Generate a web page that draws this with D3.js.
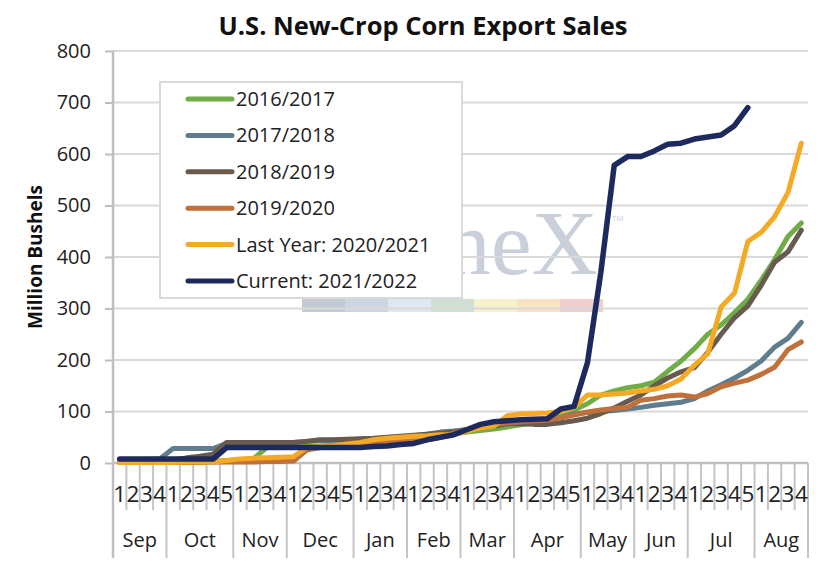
<!DOCTYPE html>
<html>
<head>
<meta charset="utf-8">
<script src="https://cdn.jsdelivr.net/npm/d3@7"></script>
<style>
  body { margin: 0; background: #fff; }
  svg { display: block; font-family: "Open Sans", sans-serif; }
</style>
</head>
<body>
<svg id="chart" width="826" height="561"></svg>
<script>
// Categories: marketing-year weeks, Sep through Aug
const months = ["Sep", "Oct", "Nov", "Dec", "Jan", "Feb", "Mar", "Apr", "May", "Jun", "Jul", "Aug"];
const weeksPerMonth = [4, 5, 4, 5, 4, 4, 4, 5, 4, 4, 5, 4];
const yTicks = [0, 100, 200, 300, 400, 500, 600, 700, 800];

// Series values (million bushels), one per week
const s2016 = [2, 2, 3, 3, 3, 3, 3, 4, 5, 6, 8, 30, 30, 31, 32, 33, 35, 36, 37, 38, 40, 42, 45, 50, 55,
  57, 60, 63, 66, 70, 74, 78, 85, 97, 103, 115, 132, 140, 146, 150, 157, 178, 198, 222, 250, 268, 292, 318,
  355, 395, 440, 466];
const s2017 = [3, 5, 7, 8, 28, 28, 28, 28, 38, 38, 38, 38, 38, 40, 42, 43, 44, 45, 46, 47, 48, 50, 53, 56, 60,
  62, 65, 70, 74, 78, 80, 82, 84, 88, 95, 98, 100, 102, 105, 108, 112, 115, 118, 125, 140, 152, 165, 180,
  198, 225, 242, 273];
const s2018 = [2, 3, 4, 5, 6, 10, 13, 17, 40, 40, 40, 40, 40, 40, 42, 45, 45, 46, 47, 48, 50, 52, 54, 56, 58,
  60, 63, 68, 72, 76, 76, 75, 75, 78, 82, 87, 96, 107, 120, 132, 150, 165, 177, 185, 215, 250, 282, 305,
  345, 390, 410, 452];
const s2019 = [1, 1, 1, 1, 1, 1, 1, 2, 2, 2, 2, 3, 3, 4, 25, 30, 32, 35, 38, 40, 40, 42, 42, 45, 50, 58,
  65, 70, 74, 78, 80, 82, 83, 88, 93, 99, 103, 106, 108, 122, 125, 130, 132, 128, 135, 148, 155, 161,
  172, 186, 220, 235];
const s2020 = [1, 1, 1, 1, 1, 2, 2, 2, 5, 8, 9, 10, 11, 12, 30, 32, 33, 37, 40, 45, 48, 50, 52, 53, 55, 55,
  62, 68, 72, 92, 95, 96, 97, 100, 108, 132, 132, 134, 136, 140, 143, 150, 163, 190, 212, 303, 330, 430,
  448, 478, 525, 621];
const s2021 = [8, 8, 8, 8, 8, 8, 8, 8, 30, 30, 30, 30, 30, 30, 30, 30, 30, 30, 30, 32, 33, 36, 38, 45, 50, 55,
  65, 75, 80, 82, 84, 85, 86, 105, 110, 195, 370, 578, 595, 595, 606, 619, 621, 629, 633, 637, 655, 690];

const seriesNames = ["2016/2017", "2017/2018", "2018/2019", "2019/2020", "Last Year: 2020/2021", "Current: 2021/2022"];
const seriesColors = ["#70ad47", "#5f7d8c", "#685a4e", "#c0703a", "#f4aa25", "#1e2a5e"];
const seriesValues = [s2016, s2017, s2018, s2019, s2020, s2021];

// Build week categories
const weekLabels = [];
const monthStarts = [];
months.forEach((m, i) => {
  monthStarts.push(weekLabels.length);
  for (let w = 1; w <= weeksPerMonth[i]; w++) weekLabels.push(String(w));
});
const cats = weekLabels.map((d, i) => i);

// Layout
const plotLeft = 113, plotRight = 808, plotTop = 51, plotBottom = 463, axisFoot = 558;
const svg = d3.select("#chart");

const x = d3.scaleBand().domain(cats).range([plotLeft, plotRight]);
const y = d3.scaleLinear().domain([0, 800]).range([plotBottom, plotTop]);

// Title
svg.append("text")
  .attr("x", 423).attr("y", 35)
  .attr("text-anchor", "middle")
  .attr("font-size", 25.5).attr("font-weight", "bold").attr("fill", "#111")
  .text("U.S. New-Crop Corn Export Sales");

// Watermark
const wm = svg.append("g");
const wmColors = ["#c3cad3", "#cbd6e2", "#dde8f1", "#cfe0d2", "#f6f1cf", "#f8e3c7", "#f1cfd0"];
wm.selectAll("rect").data(wmColors).enter().append("rect")
  .attr("x", (d, i) => 302 + i * 43).attr("y", 299)
  .attr("width", 43).attr("height", 13)
  .attr("fill", d => d);
wm.append("text")
  .attr("x", 598).attr("y", 274).attr("text-anchor", "end")
  .attr("font-family", "'Liberation Serif', 'DejaVu Serif', serif")
  .attr("font-size", 92).attr("fill", "#c9d0d9")
  .text("neX");
wm.append("text")
  .attr("x", 612).attr("y", 221)
  .attr("font-size", 8).attr("fill", "#c9d0d9")
  .text("TM");

// Gridlines
svg.append("g")
  .selectAll("line")
  .data(yTicks.filter(d => d > 0))
  .enter().append("line")
  .attr("x1", plotLeft).attr("x2", plotRight)
  .attr("y1", d => y(d)).attr("y2", d => y(d))
  .attr("stroke", "#d9d9d9").attr("stroke-width", 2);

// Y axis
const yAxis = d3.axisLeft(y).tickValues(yTicks).tickSize(8).tickPadding(14);
const gy = svg.append("g").attr("transform", `translate(${plotLeft},0)`).call(yAxis);
gy.select(".domain").remove();
gy.selectAll(".tick line").attr("stroke", "#bfbfbf").attr("stroke-width", 2);
gy.selectAll(".tick text").attr("font-size", 20).attr("fill", "#222").attr("font-family", "'Open Sans', sans-serif");
svg.append("line")
  .attr("x1", plotLeft).attr("x2", plotLeft).attr("y1", plotTop).attr("y2", axisFoot)
  .attr("stroke", "#bfbfbf").attr("stroke-width", 2.5);

// X axis (two-level category axis)
svg.append("line")
  .attr("x1", plotLeft).attr("x2", plotRight).attr("y1", plotBottom).attr("y2", plotBottom)
  .attr("stroke", "#bfbfbf").attr("stroke-width", 2.5);
const boundaries = d3.range(1, cats.length).map(i => x(i));
svg.append("g").selectAll("line")
  .data(boundaries)
  .enter().append("line")
  .attr("x1", d => d).attr("x2", d => d)
  .attr("y1", plotBottom).attr("y2", (d, i) => monthStarts.includes(i + 1) ? axisFoot : 510)
  .attr("stroke", "#c4c4c4").attr("stroke-width", 2);
svg.append("line")
  .attr("x1", plotRight).attr("x2", plotRight).attr("y1", plotBottom).attr("y2", axisFoot)
  .attr("stroke", "#c4c4c4").attr("stroke-width", 2);

svg.append("g").selectAll("text")
  .data(cats)
  .enter().append("text")
  .attr("x", d => x(d) + x.bandwidth() / 2)
  .attr("y", 502)
  .attr("text-anchor", "middle")
  .attr("font-size", 22.5).attr("fill", "#222")
  .text(d => weekLabels[d]);

svg.append("g").selectAll("text")
  .data(months)
  .enter().append("text")
  .attr("x", (d, i) => {
    const a = x(monthStarts[i]);
    const b = x(monthStarts[i] + weeksPerMonth[i] - 1) + x.bandwidth();
    return (a + b) / 2;
  })
  .attr("y", 547)
  .attr("text-anchor", "middle")
  .attr("font-size", 20).attr("fill", "#222")
  .text(d => d);

// Y axis title
svg.append("text")
  .attr("transform", "translate(42,257) rotate(-90)")
  .attr("text-anchor", "middle")
  .attr("font-size", 19).attr("font-weight", "bold").attr("fill", "#111")
  .text("Million Bushels");

// Lines
const line = d3.line()
  .x((d, i) => x(i) + x.bandwidth() / 2)
  .y(d => y(d));

svg.append("g").selectAll("path")
  .data(seriesValues)
  .enter().append("path")
  .attr("d", d => line(d))
  .attr("fill", "none")
  .attr("stroke", (d, i) => seriesColors[i])
  .attr("stroke-width", (d, i) => i === 5 ? 5.5 : 5)
  .attr("stroke-linejoin", "round")
  .attr("stroke-linecap", "round");

// Legend
const legend = svg.append("g");
legend.append("rect")
  .attr("x", 160).attr("y", 82).attr("width", 302).attr("height", 216)
  .attr("fill", "#fff").attr("stroke", "#d9d9d9").attr("stroke-width", 2);
const items = legend.selectAll(".item")
  .data(seriesNames)
  .enter().append("g")
  .attr("transform", (d, i) => `translate(0,${99 + i * 36.4})`);
items.append("line")
  .attr("x1", 188).attr("x2", 232)
  .attr("stroke", (d, i) => seriesColors[i])
  .attr("stroke-width", 5).attr("stroke-linecap", "round");
items.append("text")
  .attr("x", 236).attr("y", 7)
  .attr("font-size", 20).attr("fill", "#222")
  .text(d => d);
</script>
</body>
</html>
